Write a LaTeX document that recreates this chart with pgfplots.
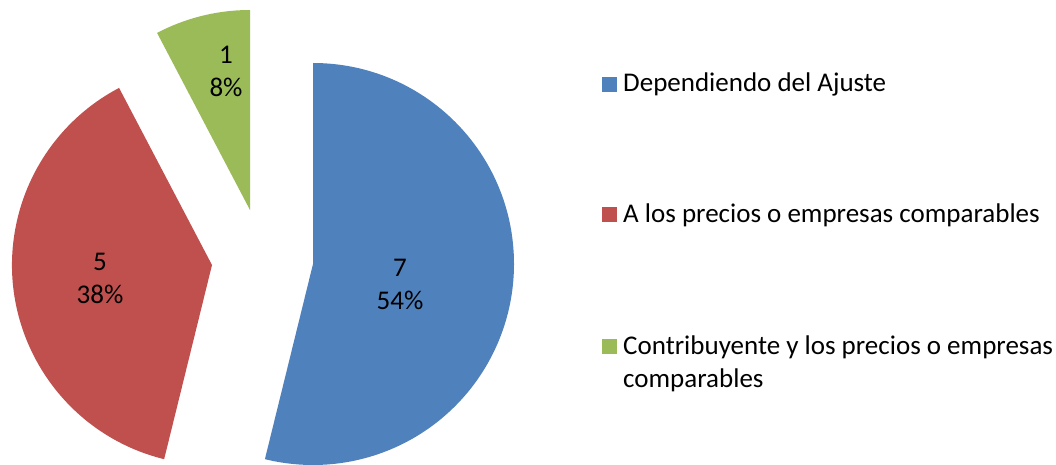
\documentclass[border=0pt]{standalone}
\usepackage{pgfplots}
\pgfplotsset{compat=1.18}
\usepackage{fontspec}
\setmainfont{Carlito}
\definecolor{cblue}{HTML}{4F81BD}
\definecolor{cred}{HTML}{C0504D}
\definecolor{cgreen}{HTML}{9BBB59}
\begin{document}
\begin{tikzpicture}
% data
\def\va{7}\def\vb{5}\def\vc{1}
\pgfmathsetmacro\tot{\va+\vb+\vc}
\pgfmathsetmacro\aA{90-360*\va/\tot}
\pgfmathsetmacro\aB{\aA-360*\vb/\tot}
\pgfmathsetmacro\aC{\aB-360*\vc/\tot}
\pgfmathsetmacro\pA{round(100*\va/\tot)}
\pgfmathsetmacro\pB{round(100*\vb/\tot)}
\pgfmathsetmacro\pC{round(100*\vc/\tot)}
\pgfkeys{/pgf/number format/.cd, fixed, precision=0, assume math mode=true}
\begin{axis}[
  width=1056pt, height=464pt, scale only axis,
  xmin=0, xmax=1056, ymin=0, ymax=464,
  hide axis, clip=false,
]
\addplot[draw=none] coordinates {(0,0) (1056,464)};
% slices
\fill[cblue] (axis cs:313,200) -- ++(90:201pt) arc[start angle=90, end angle=\aA, radius=201pt] -- cycle;
\fill[cred] (axis cs:212,199) -- ++(\aA:200pt) arc[start angle=\aA, end angle=\aB, radius=200pt] -- cycle;
\fill[cgreen] (axis cs:250,254) -- ++(\aB+360:200pt) arc[start angle=\aB+360, end angle=\aC+360, radius=200pt] -- cycle;
% labels
\begin{scope}[every node/.style={font=\fontsize{27}{33}\selectfont, align=center, inner sep=0pt, text=black}]
\node at (axis cs:400,179.5) {\pgfmathprintnumber{\va}\\\pgfmathprintnumber{\pA}\%};
\node at (axis cs:100,186) {\pgfmathprintnumber{\vb}\\\pgfmathprintnumber{\pB}\%};
\node at (axis cs:226,393) {\pgfmathprintnumber{\vc}\\\pgfmathprintnumber{\pC}\%};
\end{scope}
% legend
\fill[cblue] (axis cs:602,372) rectangle (axis cs:617,387);
\fill[cred] (axis cs:602,242) rectangle (axis cs:617,257);
\fill[cgreen] (axis cs:602,110) rectangle (axis cs:617,125);
\begin{scope}[every node/.style={font=\fontsize{27}{33}\selectfont, anchor=base west, inner sep=0pt, text=black}]
\node at (axis cs:623,372) {Dependiendo del Ajuste};
\node at (axis cs:623,242) {A los precios o empresas comparables};
\node at (axis cs:623,110) {Contribuyente y los precios o empresas};
\node at (axis cs:623,77) {comparables};
\end{scope}
\end{axis}
\pgfresetboundingbox
\path[use as bounding box] (0,0) rectangle (1056pt,464pt);
\end{tikzpicture}
\end{document}
